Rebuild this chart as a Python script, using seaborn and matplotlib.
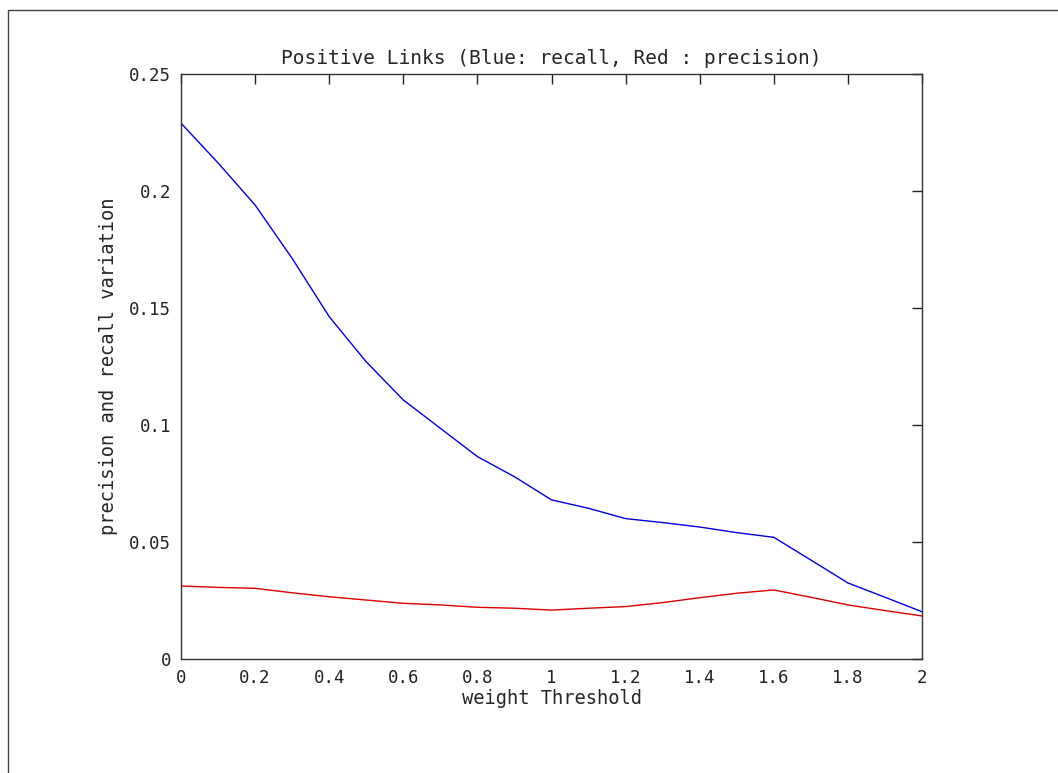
# Positive Links: recall / precision vs weight threshold

import matplotlib
matplotlib.use("Agg")
import matplotlib.pyplot as plt
from matplotlib.patches import Rectangle
import pandas as pd
import seaborn as sns


thresholds = [0.0, 0.1, 0.2, 0.3, 0.4, 0.5, 0.6, 0.7, 0.8, 0.9, 1.0,
              1.1, 1.2, 1.3, 1.4, 1.5, 1.6, 1.7, 1.8, 1.9, 2.0]
recall = [0.229, 0.212, 0.194, 0.1712, 0.1463, 0.127, 0.1107, 0.0986, 0.0865, 0.0779, 0.068,
          0.0644, 0.060, 0.0583, 0.0564, 0.054, 0.052, 0.0423, 0.0325, 0.0264, 0.0202]
precision = [0.0312, 0.0306, 0.0302, 0.0283, 0.0266, 0.0252, 0.0238, 0.0231, 0.0221, 0.0217, 0.0209,
             0.0217, 0.0224, 0.0241, 0.0262, 0.0281, 0.0295, 0.0264, 0.0231, 0.0207, 0.0184]

x_ticks = [0, 0.2, 0.4, 0.6, 0.8, 1, 1.2, 1.4, 1.6, 1.8, 2]
x_tick_labels = ["0", "0.2", "0.4", "0.6", "0.8", "1", "1.2", "1.4", "1.6", "1.8", "2"]
y_ticks = [0, 0.05, 0.1, 0.15, 0.2, 0.25]
y_tick_labels = ["0", "0.05", "0.1", "0.15", "0.2", "0.25"]


if __name__ == "__main__":
    sns.set_theme(style="white")
    plt.rcParams["font.family"] = ["DejaVu Sans Mono"]

    df = pd.DataFrame({"threshold": thresholds, "recall": recall, "precision": precision})

    fig = plt.figure(figsize=(10.58, 7.73), dpi=100)
    ax = fig.add_axes([181 / 1058, (773 - 659) / 773, 741 / 1058, 585 / 773])

    sns.lineplot(data=df, x="threshold", y="recall", color="#0000dd", linewidth=1.0, ax=ax)
    sns.lineplot(data=df, x="threshold", y="precision", color="#dd0000", linewidth=1.0, ax=ax)

    ax.set_xlim(0, 2)
    ax.set_ylim(0, 0.25)
    ax.set_xticks(x_ticks)
    ax.set_xticklabels(x_tick_labels)
    ax.set_yticks(y_ticks)
    ax.set_yticklabels(y_tick_labels)
    ax.tick_params(direction="in", length=7, width=1, colors="#222222",
                   top=True, right=True, labelsize=12.5, pad=7)
    for spine in ax.spines.values():
        spine.set_color("#333333")
        spine.set_linewidth(1.0)
        spine.set_visible(True)

    ax.set_title("Positive Links (Blue: recall, Red : precision)", fontsize=14, pad=7)
    ax.set_xlabel("weight Threshold", fontsize=13.5, labelpad=2)
    ax.set_ylabel("precision and recall variation", fontsize=13.5, labelpad=8)

    # outer frame of the figure window
    fig.patches.append(Rectangle((8 / 1058, -0.5), 1.2, 1.5 - 10 / 773, transform=fig.transFigure,
                                 fill=False, edgecolor="#444444", linewidth=1.0))

    fig.savefig("out.png", dpi=100)
